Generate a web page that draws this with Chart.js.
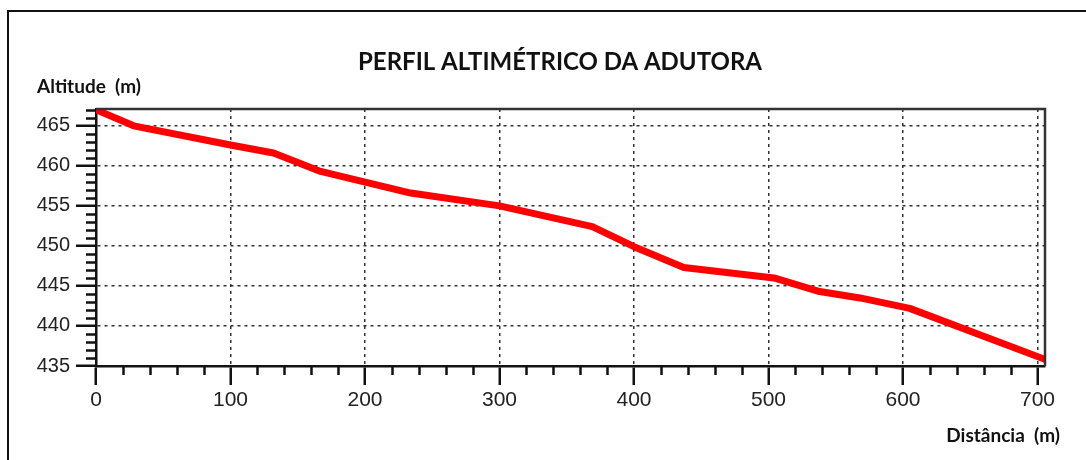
<!DOCTYPE html>
<html>
<head>
<meta charset="utf-8">
<script src="https://cdn.jsdelivr.net/npm/chart.js@4"></script>
<style>
    body { margin: 0; background: #fff; }
    #wrap { position: relative; width: 1086px; height: 460px; overflow: hidden; }
    #frame { position: absolute; left: 7px; top: 10px; width: 1200px; height: 600px;
             border-top: 2.5px solid #111; border-left: 2.5px solid #111; }
    #chart { position: absolute; left: 0; top: 0; }
</style>
</head>
<body>
<div id="wrap">
    <div id="frame"></div>
    <canvas id="chart" width="1086" height="460"></canvas>
</div>
<script>
// profile data
const distances = [0, 28, 100, 132, 167, 234, 300, 369, 400, 437, 504, 538, 568, 605, 706];
const altitudes = [467, 465, 462.6, 461.6, 459.3, 456.6, 455.0, 452.4, 449.9, 447.3, 446.0, 444.3, 443.5, 442.2, 435.8];

const xTickValues = [0, 100, 200, 300, 400, 500, 600, 700];
const yTickValues = [435, 440, 445, 450, 455, 460, 465];

const chartTitle = 'PERFIL ALTIMÉTRICO DA ADUTORA';
const yTitle = 'Altitude  (m)';
const xTitle = 'Distância  (m)';

const yMin = 435, yMax = 467.1, yMinorStep = 1;
const xMin = 0, xMax = 705.6, xMinorStep = 20;

const labelFont = "'Lato', 'Open Sans', sans-serif";

// minor ticks, top/right frame and text labels
const decorations = {
    id: 'decorations',
    afterDraw(chart) {
        const ctx = chart.ctx;
        const area = chart.chartArea;
        const xs = chart.scales.x, ys = chart.scales.y;
        ctx.save();
        ctx.strokeStyle = '#111';
        ctx.lineWidth = 2.5;
        ctx.beginPath();
        for (let v = yMin + yMinorStep; v < yMax; v += yMinorStep) {
            if (yTickValues.includes(v)) continue;
            const py = Math.round(ys.getPixelForValue(v)) + 0.5;
            ctx.moveTo(area.left - 10, py);
            ctx.lineTo(area.left, py);
        }
        for (let v = xMin + xMinorStep; v < xMax; v += xMinorStep) {
            if (xTickValues.includes(v)) continue;
            const px = Math.round(xs.getPixelForValue(v)) + 0.5;
            ctx.moveTo(px, area.bottom);
            ctx.lineTo(px, area.bottom + 9);
        }
        ctx.stroke();

        // top and right edges of the plot box
        ctx.strokeStyle = '#333';
        ctx.lineWidth = 2.5;
        ctx.beginPath();
        ctx.moveTo(area.left, area.top);
        ctx.lineTo(area.right, area.top);
        ctx.lineTo(area.right, area.bottom);
        ctx.stroke();

        ctx.fillStyle = '#111';
        ctx.textBaseline = 'middle';
        ctx.font = 'bold 24px ' + labelFont;
        ctx.textAlign = 'center';
        ctx.fillText(chartTitle, 560, 62);
        ctx.font = 'bold 19px ' + labelFont;
        ctx.textAlign = 'left';
        ctx.fillText(yTitle, 37, 87);
        ctx.textAlign = 'right';
        ctx.fillText(xTitle, 1060, 436);
        ctx.restore();
    }
};

new Chart(document.getElementById('chart'), {
    type: 'scatter',
    data: {
        datasets: [{
            data: distances.map((d, i) => ({ x: d, y: altitudes[i] })),
            showLine: true,
            borderColor: '#ff0000',
            borderWidth: 7,
            borderJoinStyle: 'round',
            borderCapStyle: 'butt',
            pointRadius: 0,
            tension: 0
        }]
    },
    options: {
        responsive: false,
        animation: false,
        layout: { padding: { left: 0, top: 109, right: 41, bottom: 0 } },
        plugins: { legend: { display: false }, tooltip: { enabled: false } },
        scales: {
            x: {
                type: 'linear',
                min: xMin,
                max: xMax,
                afterFit: s => { s.height = 94; },
                afterBuildTicks: s => { s.ticks = xTickValues.map(v => ({ value: v })); },
                ticks: {
                    maxRotation: 0,
                    autoSkip: false,
                    padding: 3,
                    color: '#222',
                    font: { family: "'Liberation Sans', Arial, sans-serif", size: 21 }
                },
                grid: {
                    color: c => (c.tick && c.tick.value === xMin) ? 'rgba(0,0,0,0)' : '#333',
                    lineWidth: 1.5,
                    tickLength: 19,
                    tickColor: '#111',
                    tickWidth: 2.5
                },
                border: { display: true, color: '#111', width: 2.5, dash: [3, 4] }
            },
            y: {
                type: 'linear',
                min: yMin,
                max: yMax,
                afterFit: s => { s.width = 96; },
                afterBuildTicks: s => { s.ticks = yTickValues.map(v => ({ value: v })); },
                ticks: {
                    autoSkip: false,
                    padding: 6,
                    color: '#222',
                    font: { family: "'Liberation Sans', Arial, sans-serif", size: 20 }
                },
                grid: {
                    color: c => (c.tick && c.tick.value === yMin) ? 'rgba(0,0,0,0)' : '#333',
                    lineWidth: 1.5,
                    tickLength: 20,
                    tickColor: '#111',
                    tickWidth: 2.5
                },
                border: { display: true, color: '#111', width: 2.5, dash: [3, 4] }
            }
        }
    },
    plugins: [decorations]
});
</script>
</body>
</html>
